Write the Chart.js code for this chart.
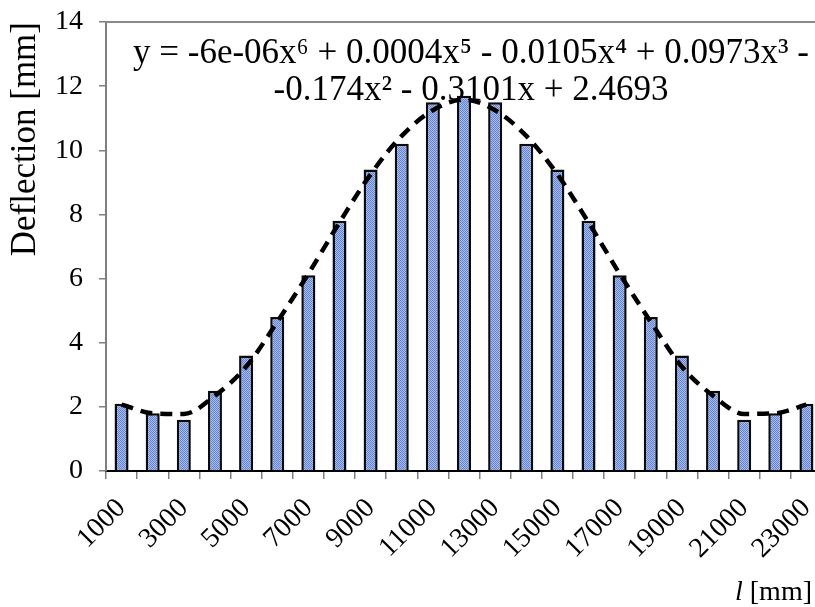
<!DOCTYPE html>
<html>
<head>
<meta charset="utf-8">
<script src="https://cdn.jsdelivr.net/npm/chart.js@4.4.1/dist/chart.umd.min.js"></script>
<style>
  html, body { margin: 0; padding: 0; background: #fff; overflow: hidden; }
  #wrap { width: 822px; height: 607px; }
</style>
</head>
<body>
<div id="wrap"><canvas id="deflectionChart" width="822" height="607"></canvas></div>
<script>
const spans = [
  1000, 2000, 3000, 4000, 5000, 6000, 7000, 8000, 9000, 10000, 11000, 12000,
  13000, 14000, 15000, 16000, 17000, 18000, 19000, 20000, 21000, 22000, 23000,
];

const deflection = [
  2.1, 1.8, 1.6, 2.5, 3.6, 4.8, 6.1, 7.8, 9.4, 10.2, 11.5, 11.7,
  11.5, 10.2, 9.4, 7.8, 6.1, 4.8, 3.6, 2.5, 1.6, 1.8, 2.1,
];

// dashed polynomial trendline at each span
const trendline = [
  2.07, 1.8, 1.78, 2.35, 3.25, 4.65, 6.15, 7.75, 9.25, 10.45, 11.25, 11.58,
  11.25, 10.45, 9.25, 7.75, 6.15, 4.65, 3.25, 2.35, 1.78, 1.8, 2.07,
];

const yTicks = [0, 2, 4, 6, 8, 10, 12, 14];

const equationLines = [
  "y = -6e-06x\u2076 + 0.0004x\u2075 - 0.0105x\u2074 + 0.0973x\u00b3 -",
  "-0.174x\u00b2 - 0.3101x + 2.4693",
];

const SERIF = "'Liberation Serif', 'Times New Roman', serif";

const canvas = document.getElementById("deflectionChart");
const ctx = canvas.getContext("2d");

function makeDotPattern() {
  const tile = document.createElement("canvas");
  tile.width = 2;
  tile.height = 2;
  const t = tile.getContext("2d");
  t.fillStyle = "#a6bcec";
  t.fillRect(0, 0, 2, 2);
  t.fillStyle = "#6384d2";
  t.fillRect(0, 0, 1, 1);
  t.fillRect(1, 1, 1, 1);
  return ctx.createPattern(tile, "repeat");
}

const topBorder = {
  id: "topBorder",
  afterDraw(chart) {
    const { left, right, top } = chart.chartArea;
    const c = chart.ctx;
    c.save();
    c.strokeStyle = "#8a8a8a";
    c.lineWidth = 2;
    c.beginPath();
    c.moveTo(left, top);
    c.lineTo(right, top);
    c.stroke();
    c.restore();
  },
};

const equationLabel = {
  id: "equationLabel",
  afterDraw(chart) {
    const { left, top } = chart.chartArea;
    const c = chart.ctx;
    const cx = left + 365;
    c.save();
    c.fillStyle = "#000";
    c.font = "35px " + SERIF;
    c.textAlign = "center";
    c.textBaseline = "alphabetic";
    c.fillText(equationLines[0], cx, top + 41);
    c.fillText(equationLines[1], cx, top + 78);
    c.restore();
  },
};

const xTitle = {
  id: "xTitle",
  afterDraw(chart) {
    const c = chart.ctx;
    const x = 812;
    const y = 600;
    c.save();
    c.fillStyle = "#000";
    c.textBaseline = "alphabetic";
    c.textAlign = "right";
    c.font = "28px " + SERIF;
    const rest = " [mm]";
    c.fillText(rest, x, y);
    const restWidth = c.measureText(rest).width;
    c.font = "italic 28px " + SERIF;
    c.fillText("l", x - restWidth, y);
    c.restore();
  },
};

new Chart(canvas, {
  data: {
    labels: spans,
    datasets: [
      {
        type: "line",
        data: trendline,
        borderColor: "#000",
        borderWidth: 4.5,
        borderDash: [12, 8],
        pointRadius: 0,
        cubicInterpolationMode: "monotone",
        fill: false,
        order: 0,
      },
      {
        type: "bar",
        data: deflection,
        backgroundColor: makeDotPattern(),
        borderColor: "#0a0a0a",
        borderWidth: 2.5,
        categoryPercentage: 1,
        barPercentage: 0.45,
        order: 1,
      },
    ],
  },
  options: {
    responsive: false,
    animation: false,
    layout: {
      padding: { top: 22, right: 0, left: 0, bottom: 0 },
    },
    scales: {
      x: {
        offset: true,
        grid: {
          offset: true,
          drawOnChartArea: false,
          tickLength: 8,
          color: "#808080",
          lineWidth: 1.5,
        },
        border: { color: "#000", width: 2 },
        ticks: {
          autoSkip: false,
          minRotation: 45,
          maxRotation: 45,
          padding: 13,
          color: "#000",
          font: { family: SERIF, size: 28 },
          callback: (value, index) => (index % 2 === 0 ? spans[index] : ""),
        },
        afterFit: (scale) => {
          scale.height = 136;
          scale.paddingLeft = 0;
          scale.paddingRight = 0;
        },
      },
      y: {
        min: 0,
        max: 14,
        afterBuildTicks: (scale) => {
          scale.ticks = yTicks.map((v) => ({ value: v }));
        },
        grid: {
          drawOnChartArea: false,
          tickLength: 7,
          color: "#808080",
          lineWidth: 1.5,
        },
        border: { color: "#808080", width: 2 },
        ticks: {
          padding: 16,
          color: "#000",
          font: { family: SERIF, size: 28 },
        },
        title: {
          display: true,
          text: "Deflection [mm]",
          align: "end",
          color: "#000",
          font: { family: SERIF, size: 35 },
          padding: { top: 5, bottom: 0 },
        },
        afterFit: (scale) => {
          scale.width = 106;
          scale.paddingTop = 0;
          scale.paddingBottom = 0;
        },
      },
    },
    plugins: {
      legend: { display: false },
      tooltip: { enabled: false },
    },
  },
  plugins: [topBorder, equationLabel, xTitle],
});
</script>
</body>
</html>
